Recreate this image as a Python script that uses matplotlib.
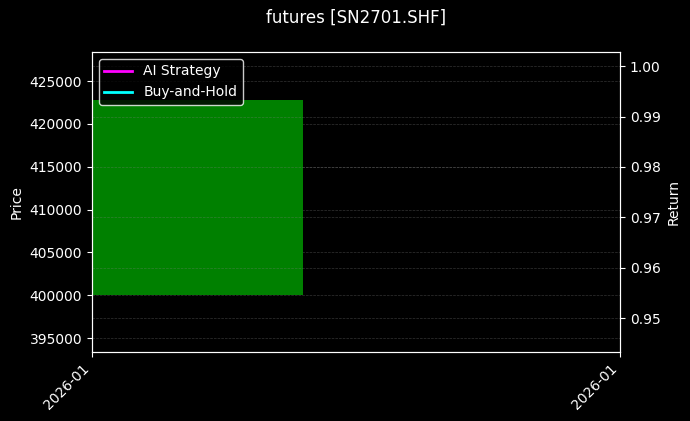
import numpy as np
import pandas as pd
import matplotlib
matplotlib.use("Agg")
import matplotlib.pyplot as plt
import matplotlib.dates as mdates

plt.style.use("dark_background")

# data
dates = pd.to_datetime(["2026-01-05", "2026-01-06"])
bar_open = [400000]
bar_close = [422800]
ai_return = [1.0]
bh_return = [1.0]

price_lim = (393370, 428400)
return_lim = (0.9433, 1.0028)

fig = plt.figure(figsize=(6.9, 4.21), dpi=100)
ax = fig.add_axes([0.1333, 0.1639, 0.7653, 0.7126])

x0 = mdates.date2num(dates[0])
ax.bar(x0, np.array(bar_close) - np.array(bar_open), bottom=bar_open,
       width=0.8, color="green", zorder=2)
ax.set_xlim(mdates.date2num(dates[0]), mdates.date2num(dates[1]))
ax.set_ylim(*price_lim)
ax.set_ylabel("Price")
ax.set_xticks(mdates.date2num(dates))
ax.xaxis.set_major_formatter(mdates.DateFormatter("%Y-%m"))
plt.setp(ax.get_xticklabels(), rotation=45, ha="right")
ax.grid(True, axis="y", linestyle="--", linewidth=0.5, color="gray", alpha=0.4)

ax2 = ax.twinx()
ax2.plot([x0], ai_return, color="magenta", linewidth=2, label="AI Strategy")
ax2.plot([x0], bh_return, color="cyan", linewidth=2, label="Buy-and-Hold")
ax2.set_ylim(*return_lim)
ax2.set_ylabel("Return")
ax2.grid(True, axis="y", linestyle="--", linewidth=0.5, color="gray", alpha=0.4)

leg = ax2.legend(loc="upper left", facecolor="black", edgecolor="white")

ax2.set_title("futures [SN2701.SHF]", fontsize=12, pad=21)
fig.savefig("out.png", dpi=100, facecolor="black")
